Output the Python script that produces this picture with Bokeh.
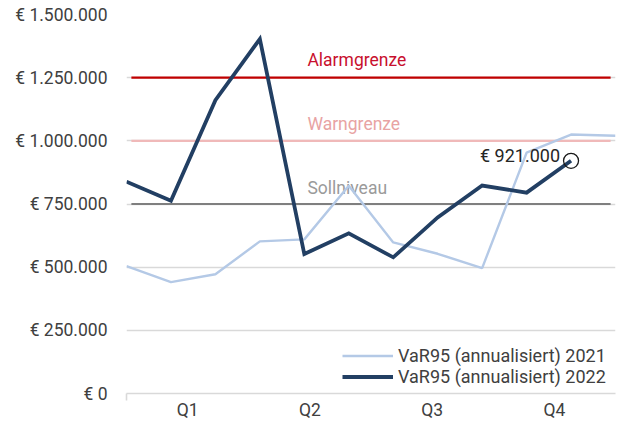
from bokeh.plotting import figure
from bokeh.models import (Range1d, LinearAxis, FixedTicker, Legend, LegendItem, Grid)
from bokeh.core.properties import value
from bokeh.embed import file_html
from bokeh.resources import INLINE

# ---- data ----
months = ["Jan", "Feb", "Mär", "Apr", "Mai", "Jun", "Jul", "Aug", "Sep", "Okt", "Nov", "Dez"]
var_2021 = [504000, 441000, 472000, 602000, 610000, 822000, 598000, 553000, 496000, 953000, 1025000, 1020000]
var_2022 = [838000, 763000, 1161000, 1403000, 552000, 634000, 539000, 697000, 823000, 795000, 921000]
quarters = ["Q1", "Q2", "Q3", "Q4"]
thresholds = [1250000, 1000000, 750000]
threshold_names = ["Alarmgrenze", "Warngrenze", "Sollniveau"]
y_ticks = [0, 250000, 500000, 750000, 1000000, 1250000, 1500000]
series_names = ["VaR95 (annualisiert) 2021", "VaR95 (annualisiert) 2022"]

# ---- styles ----
FONT = "Roboto"
FS = "17.5px"
TXT = "#404040"
th_line_colors = ["#C00000", "#F0B9B9", "#7F7F7F"]
th_text_colors = ["#C8102E", "#E8A3A3", "#9A9A9A"]
th_text_offsets = [-18, -17, -16]
c2021 = "#B4C9E6"
c2022 = "#223F63"


def eur(v):
    return "€ " + f"{v:,}".replace(",", ".")


n = len(months)
p = figure(width=619, height=422, output_backend="svg", toolbar_location=None,
           x_axis_type=None, y_axis_type=None,
           x_range=Range1d(0, n - 1), y_range=Range1d(0, y_ticks[-1]),
           min_border_left=126, min_border_right=4, min_border_top=14, min_border_bottom=27)
p.outline_line_color = None
p.background_fill_color = "white"
p.border_fill_color = "white"
p.extra_x_ranges = {"q": Range1d(0, len(quarters))}

# y axis
yticker = FixedTicker(ticks=y_ticks)
yax = LinearAxis(ticker=yticker)
yax.major_label_overrides = {t: eur(t) for t in y_ticks}
yax.axis_line_color = None
yax.major_tick_line_color = None
yax.minor_tick_line_color = None
yax.major_tick_out = 0
yax.minor_tick_out = 0
yax.major_label_standoff = 19
yax.major_label_text_font = FONT
yax.major_label_text_font_size = FS
yax.major_label_text_color = TXT
p.add_layout(yax, "left")

p.add_layout(Grid(dimension=1, ticker=yticker, grid_line_color="#D9D9D9", grid_line_width=1.6))

# x axis (quarters)
qticks = [i + 0.5 for i in range(len(quarters))]
xax = LinearAxis(x_range_name="q", ticker=FixedTicker(ticks=qticks, minor_ticks=[0]))
xax.major_label_overrides = {t: q for t, q in zip(qticks, quarters)}
xax.axis_line_color = "#D9D9D9"
xax.axis_line_width = 1.6
xax.major_tick_line_color = None
xax.major_tick_out = 0
xax.minor_tick_line_color = "#D9D9D9"
xax.minor_tick_line_width = 1.6
xax.minor_tick_out = 7
xax.minor_tick_in = 0
xax.major_label_standoff = -1
xax.major_label_text_font = FONT
xax.major_label_text_font_size = FS
xax.major_label_text_color = TXT
p.add_layout(xax, "below")

# threshold lines
inset = 0.11
for val, name, lc, tc, off in zip(thresholds, threshold_names, th_line_colors, th_text_colors, th_text_offsets):
    p.segment(x0=[inset], y0=[val], x1=[n - 1 - inset], y1=[val], line_color=lc, line_width=2.2)
    p.text(x=[4.07], y=[val], text=[name], text_color=tc, text_font=value(FONT),
           text_font_size=FS, text_align="left", text_baseline="middle", y_offset=off)

# series
r21 = p.line(list(range(len(var_2021))), var_2021, line_color=c2021, line_width=2.4)
r22 = p.line(list(range(len(var_2022))), var_2022, line_color=c2022, line_width=3.8,
             line_join="miter")

# annotation of last value
last_x = len(var_2022) - 1
last_v = var_2022[-1]
p.scatter([last_x], [last_v], marker="circle", size=15, fill_color=None,
          line_color="#1A1A1A", line_width=1.3)
p.text(x=[last_x], y=[last_v], text=[eur(last_v)], text_color="#262626", text_font=value(FONT),
       text_font_size="18px", text_align="right", text_baseline="middle",
       x_offset=-11, y_offset=-5)

legend = Legend(items=[LegendItem(label=series_names[0], renderers=[r21]),
                       LegendItem(label=series_names[1], renderers=[r22])],
                location=(216, 6), padding=0, margin=0, spacing=0,
                glyph_width=51, glyph_height=21, label_height=21, label_standoff=5,
                label_text_font=FONT, label_text_font_size="18px", label_text_color=TXT,
                border_line_color=None, background_fill_alpha=0)
p.add_layout(legend)

open("out.html", "w").write(file_html(p, INLINE))
